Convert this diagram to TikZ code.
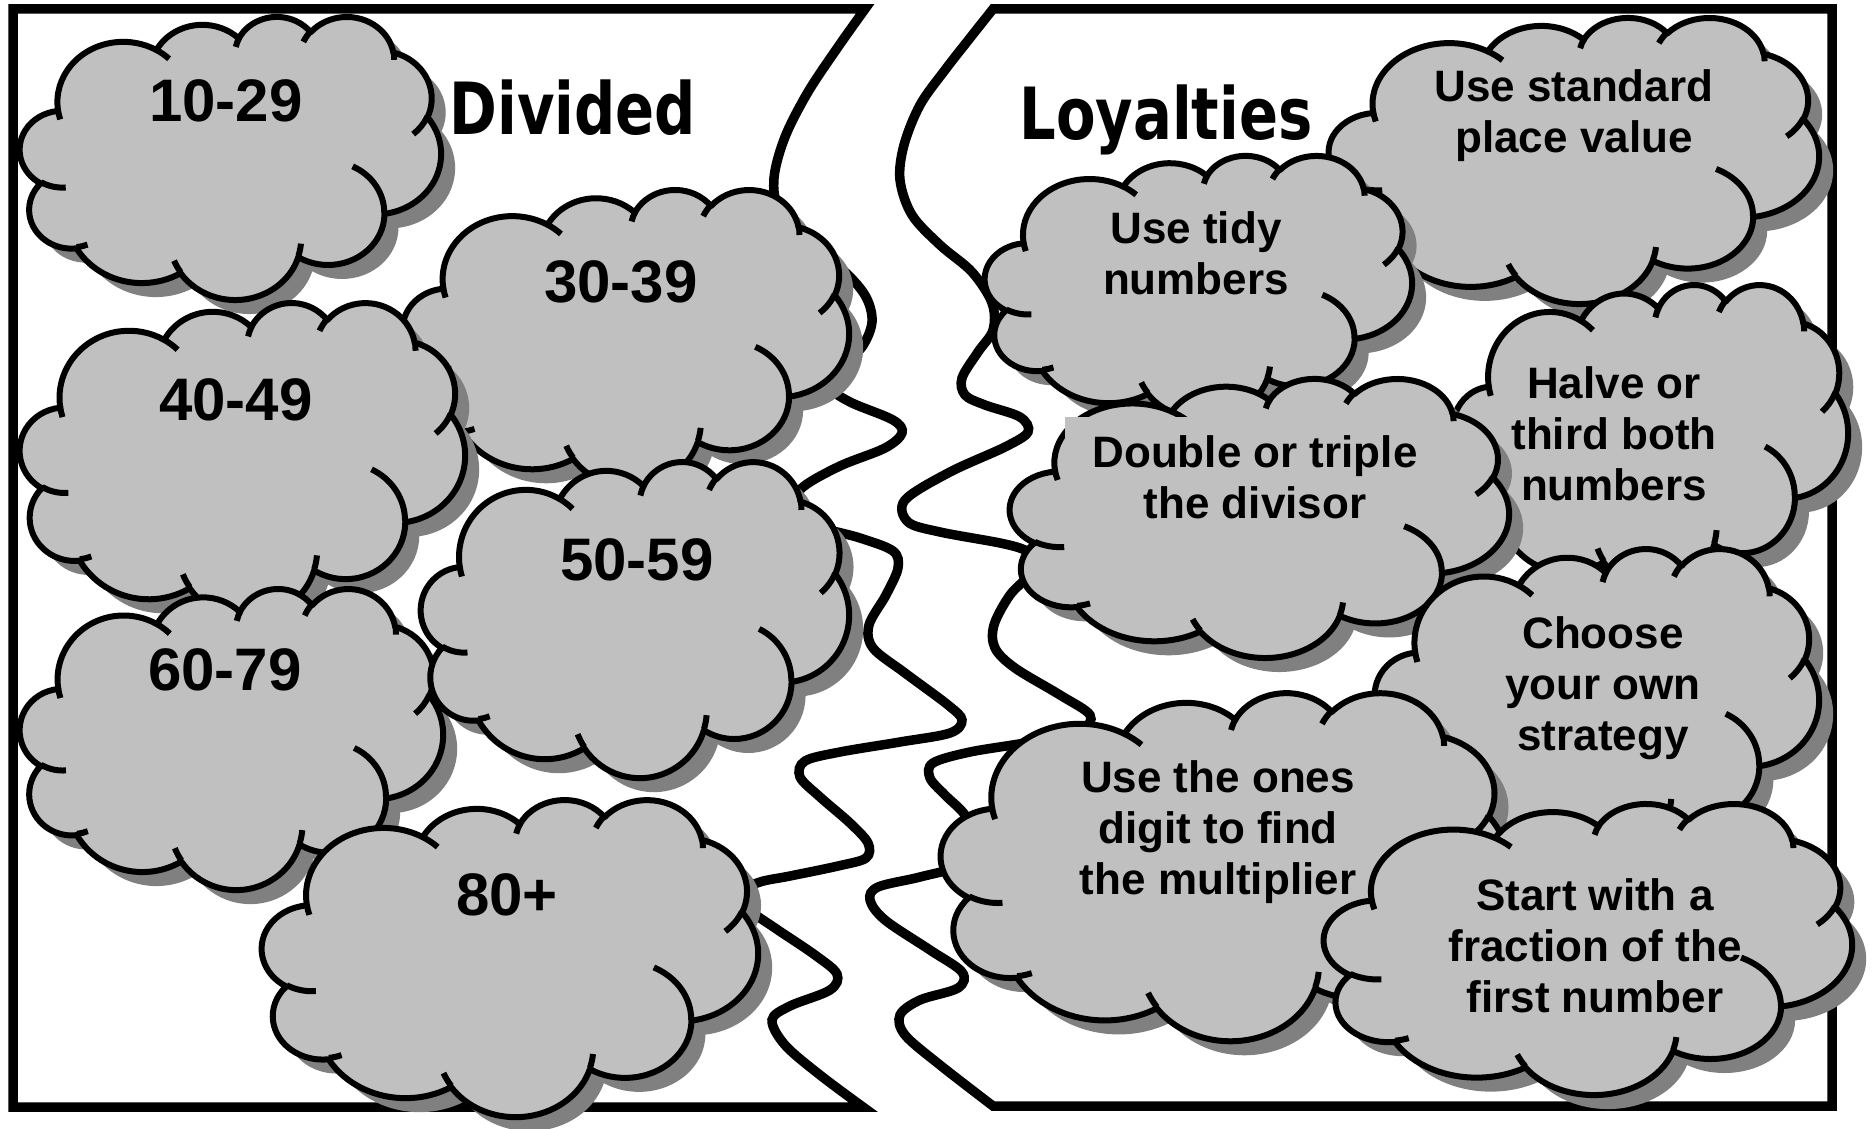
\documentclass[tikz,border=0pt]{standalone}
\usepackage{fontspec}
\setmainfont{Liberation Sans}
\newfontfamily\titlefont{DejaVu Sans}[FakeStretch=0.8]
\definecolor{cloudgray}{HTML}{C0C0C0}
\definecolor{shadegray}{HTML}{808080}

% Outline of an Office-style cloud in the box with top-left (#1,#2), width #3, height #4.
% Arc data are the preset cloud geometry divided by 100 (box = 432 x 432).
\newcommand{\cloudshape}[4]{%
  ({#1+#3*0.0902778},{#2+#4*0.3326389})
  \foreach \cRx/\cRy/\cSt/\cSw in {67.53/91.90/-190.48748/123.78053,53.33/72.67/-144.10238/89.94523,43.65/59.45/-145.80792/99.72302,48.57/65.95/-130.98607/117.24173,53.33/72.73/-78.70888/109.02692,67.75/92.20/-46.26725/130.26900,57.85/78.67/0.62502/114.03333,67.52/92.15/22.45160/115.17255,77.20/105.43/66.24263/75.71102,43.60/59.18/-274.94208/146.73557,43.45/59.45/-246.82850/152.51885}{%
    arc[start angle={atan2(\cRx*sin(\cSt),\cRy*cos(\cSt))},
        delta angle={mod(atan2(\cRx*sin(\cSt+\cSw),\cRy*cos(\cSt+\cSw))-atan2(\cRx*sin(\cSt),\cRy*cos(\cSt))+720,360)},
        x radius={\cRx/432*#3}, y radius={\cRy/432*#4}]
  } -- cycle
}
% The short inner arcs where the puffs of a cloud meet.
\newcommand{\cloudticks}[4]{%
  \foreach \cPx/\cPy/\cRx/\cRy/\cSt/\cSw in {46.93/261.77/43.45/59.45/86.74200/26.42950,69.28/348.99/43.60/59.18/73.61047/11.44747,164.78/390.90/67.52/92.15/137.62415/14.08110,288.27/347.51/67.52/92.15/6.45327/15.99835,341.29/229.54/57.85/78.67/-70.29235/70.91737,417.98/153.54/53.33/72.73/30.31803/27.75150,383.24/54.26/48.57/65.95/-13.74433/14.85890,290.78/39.52/48.57/65.95/-149.18145/18.19537,221.41/47.20/43.65/59.45/-163.49427/17.68635,140.00/51.92/67.53/91.90/-66.70695/12.31935,41.27/157.89/67.53/91.90/157.65435/11.85817}{%
    ({#1+\cPx/432*#3},{#2+\cPy/432*#4})
    arc[start angle={atan2(\cRx*sin(\cSt),\cRy*cos(\cSt))},
        delta angle={mod(atan2(\cRx*sin(\cSt+\cSw),\cRy*cos(\cSt+\cSw))-atan2(\cRx*sin(\cSt),\cRy*cos(\cSt))+720,360)},
        x radius={\cRx/432*#3}, y radius={\cRy/432*#4}]
  }
}
% A cloud with its drop shadow.
\newcommand{\drawcloud}[4]{%
  \fill[shadegray] \cloudshape{#1+14}{#2+14}{#3}{#4};
  \filldraw[cloudbody] \cloudshape{#1}{#2}{#3}{#4};
  \draw[cloudline] \cloudticks{#1}{#2}{#3}{#4};
}
\newcommand{\topstrut}{\rule{0pt}{0.8em}}

\begin{document}
\begin{tikzpicture}[x=1pt, y=-1pt,
  frameline/.style={line width=9.5pt, line join=miter, miter limit=10},
  cloudbody/.style={fill=cloudgray, draw=black, line width=6pt, line join=round},
  cloudline/.style={draw=black, line width=6pt},
  numlabel/.style={font=\fontsize{60}{69}\selectfont\bfseries, anchor=base, inner sep=0pt},
  textlabel/.style={font=\fontsize{44}{51}\selectfont\bfseries, align=center, anchor=north, inner sep=0pt},
  titlelabel/.style={font=\titlefont\bfseries\fontsize{72}{80}\selectfont, anchor=base, inner sep=0pt}]
\useasboundingbox (0,0) rectangle (1875,1129);
\fill[white] (0,0) rectangle (1875,1129);

% left half of the torn page
\draw[frameline] (863,1107) -- (13,1107) -- (13,9) -- (865,9) -- plot[smooth, tension=0.55] coordinates {
  (865,9) (838,47) (808,92) (785,137) (774,178) (779,210) (805,240) (845,272) (866,297)
  (872,322) (862,347) (840,368) (832,388) (850,402) (893,420) (902,433) (885,448) (840,466)
  (803,487) (795,505) (815,525) (860,538) (893,551) (898,568) (886,595) (869,625) (873,648)
  (905,673) (948,705) (962,720) (950,733) (900,742) (840,752) (805,761) (800,777) (820,797)
  (850,823) (868,843) (866,858) (838,866) (790,876) (760,882) (742,892) (750,910) (775,928)
  (815,955) (837,974) (830,990) (790,1006) (772,1020) (785,1045) (820,1075) (863,1107)} -- cycle;

% right half of the torn page
\draw[frameline] (993,1106) -- (1832,1106) -- (1832,9) -- (993,9) -- plot[smooth, tension=0.55] coordinates {
  (993,9) (970,38) (945,70) (920,105) (904,145) (900,180) (912,215) (940,245) (972,272)
  (992,303) (993,330) (978,352) (962,378) (965,395) (985,405) (1020,417) (1028,432) (1005,447)
  (950,472) (905,500) (908,522) (940,532) (1000,543) (1025,550) (1040,560) (1030,575) (1010,595)
  (994,625) (995,648) (1015,668) (1060,695) (1090,715) (1080,730) (1030,742) (970,752) (933,763)
  (930,778) (945,795) (965,815) (975,840) (960,865) (920,877) (878,887) (870,900) (885,920)
  (930,950) (962,972) (958,988) (920,1000) (900,1015) (905,1035) (940,1065) (993,1106)} -- cycle;

\node[titlelabel] (divided) at (573,135) {Divided};
\node[titlelabel] (loyalties) at (1166,140) {Loyalties};

% clouds of the left half
\drawcloud{20}{16}{421}{283}
\node[numlabel] (r10) at (226,122) {10-29};
\drawcloud{403}{189}{446}{297}
\node[numlabel] (r30) at (621,302) {30-39};
\drawcloud{20}{302}{445}{315}
\node[numlabel] (r40) at (236,420) {40-49};
\drawcloud{20}{588}{423}{301}
\node[numlabel] (r60) at (225,690) {60-79};
\drawcloud{421}{461}{428}{316}
\node[numlabel] (r50) at (637,580) {50-59};
\drawcloud{262}{799}{496}{317}
\node[numlabel] (r80) at (507,915) {80+};

% clouds of the right half
\drawcloud{1329}{17}{490}{286}
\node[textlabel] (standard) at (1574,65.8) {\topstrut Use standard\\place value};
\drawcloud{985}{155}{427}{263}
\node[textlabel] (tidy) at (1196,208.4) {\topstrut Use tidy\\numbers};
\drawcloud{1453}{284}{395}{306}
\node[textlabel] (halve) at (1614,362.8) {\topstrut Halve or\\third both\\numbers};
\drawcloud{1010}{378}{499}{279}
\fill[cloudgray] (1065,417) rectangle (1300,470);
\node[textlabel] (double) at (1255,431.8) {\topstrut Double or triple\\the divisor};
\drawcloud{1375}{548}{444}{312}
\node[textlabel] (choose) at (1603,612.8) {\topstrut Choose\\your own\\strategy};
\drawcloud{941}{692}{566}{348}
\node[textlabel] (ones) at (1218,756.8) {\topstrut Use the ones\\digit to find\\the multiplier};
\drawcloud{1324}{803}{528}{291}
\node[textlabel] (start) at (1595,874.8) {\topstrut Start with a\\fraction of the\\first number};
\end{tikzpicture}
\end{document}
